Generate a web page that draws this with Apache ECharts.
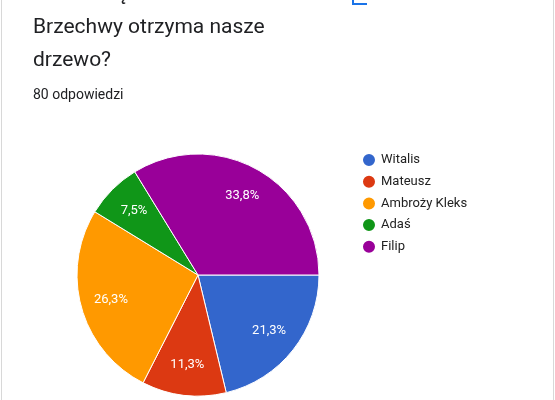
<!DOCTYPE html>
<html><head><meta charset="utf-8">
<script src="https://cdn.jsdelivr.net/npm/echarts@6/dist/echarts.min.js"></script>
<style>html,body{margin:0;padding:0;background:#fff}#c{width:555px;height:400px}</style>
</head><body><div id="c"></div>
<script>
const categories = ['Witalis', 'Mateusz', 'Ambroży Kleks', 'Adaś', 'Filip'];
const counts = [17, 9, 21, 6, 27];
const colors = ['#3366CC', '#DC3912', '#FF9900', '#109618', '#990099'];
const titleLines = ['Które imię z utworów', 'Brzechwy otrzyma nasze', 'drzewo?'];
const subtitle = '80 odpowiedzi';

const data = categories.map((n, i) => ({ name: n, value: counts[i], itemStyle: { color: colors[i] } }));
const chart = echarts.init(document.getElementById('c'));
const total = counts.reduce((a, b) => a + b, 0);
const fmt = p => (Math.round(p.value / total * 1000) / 10).toFixed(1).replace('.', ',') + '%';

chart.setOption({
  animation: false,
  backgroundColor: '#fff',
  legend: {
    orient: 'vertical', left: 361, top: 152, padding: 0, icon: 'circle',
    itemWidth: 14, itemHeight: 14, itemGap: 5.7,
    textStyle: { fontFamily: 'Roboto', fontSize: 13, color: '#222', lineHeight: 14 },
    data: categories
  },
  graphic: [
    { type: 'text', left: 33, top: -22, style: { text: titleLines.join('\n'), font: '21px Roboto', fill: '#202124', lineHeight: 33 } },
    { type: 'text', left: 33, top: 88, style: { text: subtitle, font: '14px Roboto', fill: '#202124' } },
    { type: 'line', shape: { x1: 1.5, y1: 0, x2: 1.5, y2: 400 }, style: { stroke: '#d8d8d8', lineWidth: 1 } },
    { type: 'line', shape: { x1: 553.5, y1: 0, x2: 553.5, y2: 400 }, style: { stroke: '#d8d8d8', lineWidth: 1 } },
    { type: 'polyline', shape: { points: [[353, 0], [353, 4], [367, 4]] }, style: { stroke: '#1a73e8', lineWidth: 2, fill: null } }
  ],
  series: [
    {
      type: 'pie', center: [198, 275], radius: 121, startAngle: 0, clockwise: true,
      label: { show: false }, labelLine: { show: false }, silent: true,
      itemStyle: { borderColor: '#fff', borderWidth: 1 },
      data: data
    },
    {
      type: 'pie', center: [198, 275], radius: [53, 122], startAngle: 0, clockwise: true, silent: true,
      itemStyle: { color: 'transparent', borderWidth: 0 },
      label: { show: true, position: 'inside', formatter: fmt, fontFamily: 'Roboto', fontSize: 13, color: '#fff' },
      labelLine: { show: false },
      data: categories.map((n, i) => ({ name: n, value: counts[i], itemStyle: { color: 'transparent' } }))
    }
  ]
});
</script></body></html>
